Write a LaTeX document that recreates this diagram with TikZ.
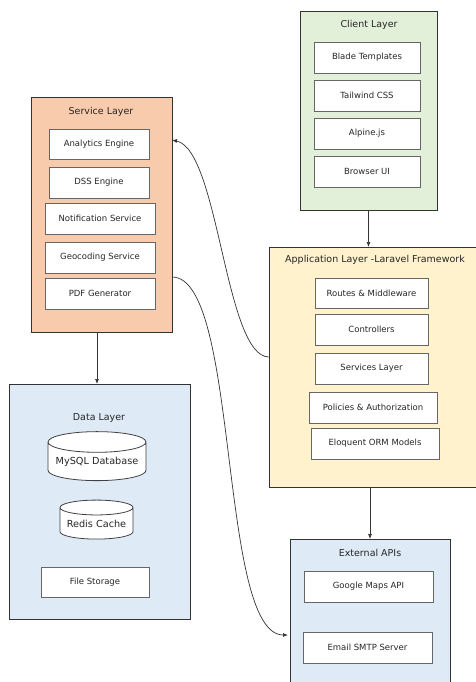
\documentclass[tikz,border=0pt]{standalone}
\usepackage{fontspec}
\setmainfont{DejaVu Sans}
\usetikzlibrary{arrows.meta,shapes.geometric}

\definecolor{clientgreen}{RGB}{226,240,217}
\definecolor{servicepeach}{RGB}{248,203,173}
\definecolor{appyellow}{RGB}{255,242,204}
\definecolor{datablue}{RGB}{222,235,247}

\begin{document}
\begin{tikzpicture}[x=1pt,y=-1pt,
  layer/.style={shape=rectangle,draw=black!80,line width=0.8pt,inner sep=0pt,outer sep=0pt},
  title/.style={font=\fontsize{9.5}{11}\selectfont,text=black!85},
  comp/.style={shape=rectangle,draw=black!60,line width=0.8pt,fill=white,inner sep=0pt,
    font=\fontsize{8.5}{10}\selectfont,text=black!85},
  store/.style={shape=cylinder,shape border rotate=90,aspect=0.25,draw=black!75,line width=0.8pt,
    fill=white,inner sep=0pt,font=\fontsize{9.7}{11}\selectfont,text=black!85},
  arr/.style={-{Latex[length=5pt,width=4pt]},draw=black!80,line width=0.7pt}]
\useasboundingbox (0,0) rectangle (476,682);

% layers
\node[layer,fill=clientgreen,minimum width=137,minimum height=199] (client) at (368.5,110.5) {};
\node[layer,fill=servicepeach,minimum width=141,minimum height=235] (service) at (101.5,214.5) {};
\node[layer,fill=appyellow,minimum width=207,minimum height=240] (app) at (372.5,367) {};
\node[layer,fill=datablue,minimum width=181,minimum height=235] (data) at (99.5,501.5) {};
\node[layer,fill=datablue,minimum width=160,minimum height=145] (ext) at (370,611.5) {};

% titles
\node[title] (clientT) at (369,25) {Client Layer};
\node[title] (serviceT) at (101,112) {Service Layer};
\node[title] (appT) at (375,260) {Application Layer -Laravel Framework};
\node[title] (dataT) at (99,418) {Data Layer};
\node[title] (extT) at (370,553) {External APIs};

% client layer
\node[comp,minimum width=106,minimum height=31] (blade) at (367,57.5) {Blade Templates};
\node[comp,minimum width=106,minimum height=31] (tailwind) at (367,95.5) {Tailwind CSS};
\node[comp,minimum width=106,minimum height=31] (alpine) at (367,133.5) {Alpine.js};
\node[comp,minimum width=106,minimum height=31] (browser) at (367,171.5) {Browser UI};

% service layer
\node[comp,minimum width=100,minimum height=30] (analytics) at (99,144) {Analytics Engine};
\node[comp,minimum width=100,minimum height=31] (dss) at (99,182.5) {DSS Engine};
\node[comp,minimum width=110,minimum height=31] (notify) at (100,218.5) {Notification Service};
\node[comp,minimum width=110,minimum height=31] (geo) at (100,257.5) {Geocoding Service};
\node[comp,minimum width=110,minimum height=31] (pdf) at (100,293.5) {PDF Generator};

% application layer
\node[comp,minimum width=113,minimum height=30] (routes) at (371.5,293) {Routes \& Middleware};
\node[comp,minimum width=113,minimum height=31] (ctrl) at (371.5,329.5) {Controllers};
\node[comp,minimum width=113,minimum height=31] (svc) at (371.5,368.5) {Services Layer};
\node[comp,minimum width=128,minimum height=31] (policy) at (373,407.5) {Policies \& Authorization};
\node[comp,minimum width=128,minimum height=31] (orm) at (375,443.5) {Eloquent ORM Models};

% data layer
\node[store,minimum width=98,minimum height=49] (mysql) at (97,461.5) {MySQL Database};
\node[store,minimum width=73,minimum height=39] (redis) at (96.5,523.5) {Redis Cache};
\node[comp,minimum width=108,minimum height=30] (files) at (95,582) {File Storage};

% external apis
\node[comp,minimum width=129,minimum height=31] (gmaps) at (368.5,586.5) {Google Maps API};
\node[comp,minimum width=129,minimum height=31] (smtp) at (367.5,647.5) {Email SMTP Server};

% connectors
\draw[arr] (client.south) -- (client.south |- app.north);
\draw[arr] ([xshift=-4.5pt]service.south) -- ([xshift=-4.5pt]service.south |- data.north);
\draw[arr] (ext.north |- app.south) -- (ext.north);
\draw[arr] ([yshift=10pt]app.west) .. controls +(-44,0) and +(47,10) .. ([yshift=74.5pt]service.east);
\draw[arr,shorten >=2pt] ([yshift=-62.5pt]service.east) .. controls +(68,0) and +(-72,0) .. ([yshift=-23.5pt]ext.west);
\end{tikzpicture}
\end{document}
